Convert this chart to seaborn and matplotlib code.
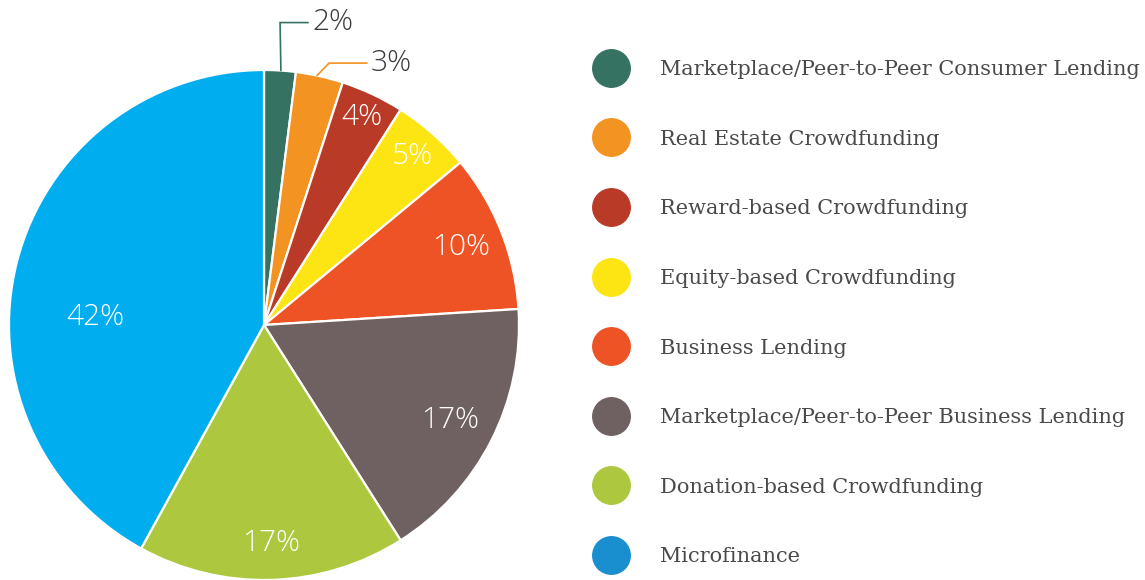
import numpy as np
import matplotlib
matplotlib.use("Agg")
import matplotlib.pyplot as plt
from matplotlib.lines import Line2D
import seaborn as sns

categories = [
    "Marketplace/Peer-to-Peer Consumer Lending",
    "Real Estate Crowdfunding",
    "Reward-based Crowdfunding",
    "Equity-based Crowdfunding",
    "Business Lending",
    "Marketplace/Peer-to-Peer Business Lending",
    "Donation-based Crowdfunding",
    "Microfinance",
]
shares = [2, 3, 4, 5, 10, 17, 17, 42]
slice_colors = ["#367262", "#F39322", "#BA3A28", "#FDE413", "#EE5325",
                "#6F6161", "#ADC83F", "#00ADEE"]
legend_colors = ["#367262", "#F39322", "#BA3A28", "#FDE413", "#EE5325",
                 "#6F6161", "#ADC83F", "#1A8FCF"]

sns.set_theme(style="white")
palette = sns.color_palette(slice_colors)
leg_palette = sns.color_palette(legend_colors)

W, H = 1145, 580
fig = plt.figure(figsize=(W / 100, H / 100), dpi=100)
cx, cy, R = 264, 325, 255
ax = fig.add_axes([(cx - R) / W, (H - cy - R) / H, 2 * R / W, 2 * R / H])
ax.axis("off")

wedges, _ = ax.pie(shares, colors=palette, startangle=90, counterclock=False,
                   radius=1, center=(0, 0), frame=False,
                   wedgeprops=dict(edgecolor="white", linewidth=1.6))
ax.set_xlim(-1, 1)
ax.set_ylim(-1, 1)
ax.set_aspect("auto")

label_font = dict(family=["Open Sans", "DejaVu Sans"], fontweight="light", fontsize=21.5)
inner_r = [None, None, 0.90, 0.88, 0.83, 0.82, 0.855, 0.66]
for i, (w, v) in enumerate(zip(wedges, shares)):
    mid = np.deg2rad((w.theta1 + w.theta2) / 2)
    if i == 7:
        mid = np.deg2rad(177.5)
    if inner_r[i] is not None:
        ax.text(inner_r[i] * np.cos(mid), inner_r[i] * np.sin(mid), f"{v}%",
                ha="center", va="center", color="white", **label_font)

# outside labels with leader lines
grey = "#4A4A4A"
for i, (elbow, end) in enumerate([((0.063, 1.186), (0.173, 1.186)),
                                  ((0.255, 1.027), (0.404, 1.027))]):
    mid = np.deg2rad(86.2 if i == 0 else 78.0)
    sx, sy = np.cos(mid), np.sin(mid)
    ax.plot([sx, elbow[0], end[0]], [sy, elbow[1], end[1]],
            color=palette[i], lw=1.2, clip_on=False, solid_joinstyle="miter")
    ax.text(end[0] + 0.015, end[1], f"{shares[i]}%", ha="left", va="center",
            color="#3A3A3A", clip_on=False, **label_font)

handles = [Line2D([], [], marker="o", linestyle="none", markersize=27,
                  markerfacecolor=c, markeredgecolor=c) for c in leg_palette]
fig.legend(handles, categories, loc="upper left",
           bbox_to_anchor=(596.4 / W, 1 - 60 / H), frameon=False,
           prop=dict(family="DejaVu Serif", size=15),
           labelcolor=grey, handlelength=1.4, handletextpad=1.65,
           labelspacing=2.43, borderpad=0, borderaxespad=0)

fig.savefig("out.png", dpi=100, facecolor="white")
